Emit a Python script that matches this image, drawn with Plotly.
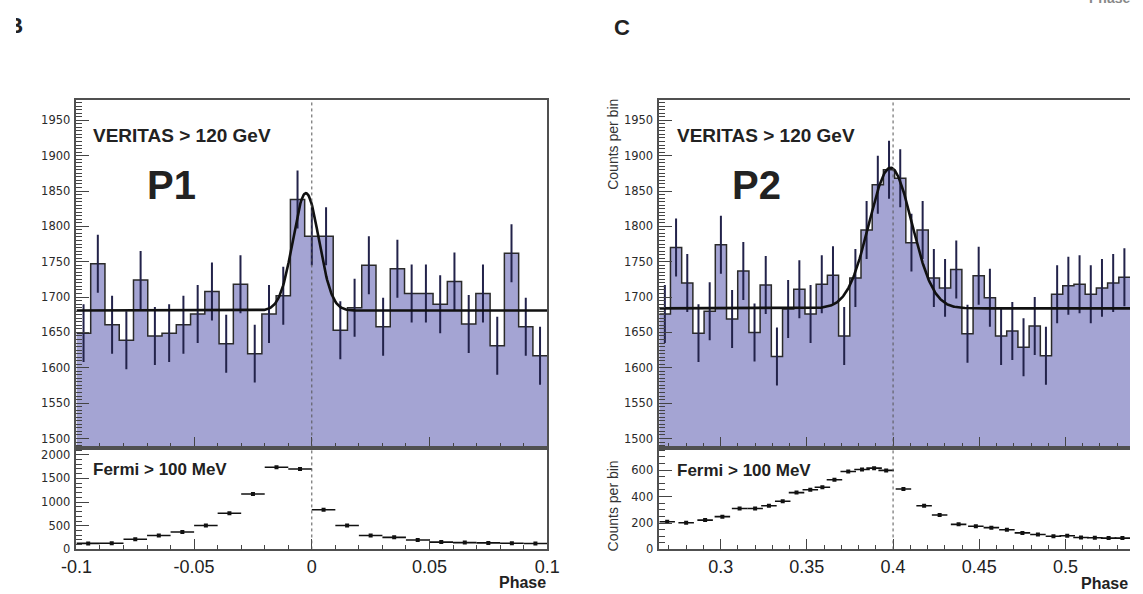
import numpy as np
import plotly.graph_objects as go

# ---------------- data ----------------
# VERITAS > 120 GeV phaseograms (counts per bin)
left_phase_range = [-0.1, 0.1]
left_counts = [1649, 1747, 1661, 1639, 1724, 1645, 1649, 1661, 1676, 1708, 1634,
               1718, 1620, 1676, 1702, 1838, 1786, 1786, 1653, 1685, 1745, 1658,
               1740, 1705, 1705, 1690, 1722, 1662, 1705, 1631, 1762, 1658, 1617]
right_phase_range = [0.2644, 0.5374]
right_counts = [1676, 1770, 1720, 1649, 1680, 1774, 1669, 1737, 1650, 1717, 1616,
                1683, 1711, 1676, 1718, 1731, 1645, 1727, 1795, 1859, 1880, 1868,
                1777, 1795, 1727, 1713, 1739, 1648, 1730, 1699, 1645, 1652, 1629,
                1659, 1617, 1704, 1716, 1718, 1704, 1713, 1720, 1728]
veritas_err = 41

# Gaussian fits (baseline, amplitude, centre, sigma)
left_fit = [1681, 166, -0.0025, 0.0055]
right_fit = [1684, 199, 0.3985, 0.0124]

# Fermi > 100 MeV
fermi_left_phase = [-0.095, -0.085, -0.075, -0.065, -0.055, -0.045, -0.035, -0.025,
                    -0.015, -0.005, 0.005, 0.015, 0.025, 0.035, 0.045, 0.055,
                    0.065, 0.075, 0.085, 0.095]
fermi_left_counts = [128, 132, 215, 295, 370, 505, 765, 1170, 1735, 1700, 840, 505,
                     295, 255, 200, 155, 145, 138, 130, 125]
fermi_left_halfwidth = 0.005
fermi_right_phase = [0.269, 0.280, 0.291, 0.301, 0.311, 0.320, 0.328, 0.336, 0.344,
                     0.352, 0.359, 0.366, 0.374, 0.382, 0.389, 0.396, 0.406, 0.418,
                     0.427, 0.438, 0.448, 0.457, 0.466, 0.475, 0.484, 0.493, 0.501,
                     0.509, 0.517, 0.525, 0.533]
fermi_right_counts = [210, 202, 222, 248, 310, 310, 330, 365, 430, 452, 470, 527, 590,
                      605, 615, 598, 457, 331, 261, 190, 175, 165, 149, 125, 113, 100,
                      104, 90, 88, 86, 86]
fermi_right_halfwidth = 0.0045

top_yticks = [1500, 1550, 1600, 1650, 1700, 1750, 1800, 1850, 1900, 1950]
left_fermi_yticks = [0, 500, 1000, 1500, 2000]
right_fermi_yticks = [0, 200, 400, 600]
left_xticks = [-0.1, -0.05, 0, 0.05, 0.1]
left_xticktext = ["-0.1", "-0.05", "0", "0.05", "0.1"]
right_xticks = [0.3, 0.35, 0.4, 0.45, 0.5]
right_xticktext = ["0.3", "0.35", "0.4", "0.45", "0.5"]

# ---------------- styling ----------------
W, H = 1143, 594
BLUE = "#a4a4d3"
ERRC = "#22224a"
FONT = "Liberation Sans, Arial, sans-serif"
TXT = "#222222"


def px_x(p):
    return p / W


def px_y(p):
    return 1 - p / H


fig = go.Figure()


def add_panel(xa, ya, rng, counts, fit):
    n = len(counts)
    edges = np.linspace(rng[0], rng[1], n + 1)
    centers = 0.5 * (edges[:-1] + edges[1:])
    fig.add_trace(go.Scatter(x=edges, y=list(counts) + [counts[-1]], mode="lines",
                             line=dict(shape="hv", color="#2a2a2a", width=1.5),
                             fill="tozeroy", fillcolor=BLUE, xaxis=xa, yaxis=ya,
                             hoverinfo="skip", showlegend=False))
    fig.add_trace(go.Scatter(x=centers, y=counts, mode="markers",
                             marker=dict(size=1, color=ERRC),
                             error_y=dict(type="constant", value=veritas_err,
                                          color=ERRC, thickness=2, width=0),
                             xaxis=xa, yaxis=ya, showlegend=False))
    xf = np.linspace(rng[0], rng[1], 600)
    b, a, c, s = fit
    yf = b + a * np.exp(-0.5 * ((xf - c) / s) ** 2)
    fig.add_trace(go.Scatter(x=xf, y=yf, mode="lines",
                             line=dict(color="#111111", width=2.6),
                             xaxis=xa, yaxis=ya, showlegend=False))


def add_fermi(xa, ya, ph, cts, hw):
    fig.add_trace(go.Scatter(x=ph, y=cts, mode="markers",
                             marker=dict(symbol="square", size=4, color="#111111"),
                             error_x=dict(type="constant", value=hw, color="#111111",
                                          thickness=1.6, width=0),
                             xaxis=xa, yaxis=ya, showlegend=False))


add_panel("x", "y", left_phase_range, left_counts, left_fit)
add_fermi("x2", "y2", fermi_left_phase, fermi_left_counts, fermi_left_halfwidth)
add_panel("x3", "y3", right_phase_range, right_counts, right_fit)
add_fermi("x4", "y4", fermi_right_phase, fermi_right_counts, fermi_right_halfwidth)

# panel letter "B", partly cut by the left page edge (clipped by a full-page overlay axis)
fig.add_trace(go.Scatter(x=[-9], y=[28], mode="text", text=["<b>B</b>"],
                         textposition="middle right",
                         textfont=dict(family=FONT, size=22, color=TXT),
                         xaxis="x5", yaxis="y5", showlegend=False, hoverinfo="skip"))

LX = [px_x(62), px_x(545)]
RX = [px_x(660), 1.0]
TY = [px_y(453), px_y(101)]
BY = [px_y(556), px_y(453)]

axline = dict(showline=True, linecolor="#505050", linewidth=1.5, showgrid=False,
              zeroline=False, ticks="inside", tickcolor="#444444", tickwidth=1)
tickfont_y = dict(family="DejaVu Sans, sans-serif", size=11.5, color="#2a2a2a")
tickfont_x = dict(family=FONT, size=18, color=TXT)


def xaxis(dom, rng, anchor, labels, tv=None, tt=None):
    d = dict(axline, domain=dom, range=rng, anchor=anchor, mirror=True,
             ticklen=11, minor=dict(tickmode="linear", tick0=0, dtick=0.01,
                                    ticklen=5, ticks="inside", tickcolor="#444444"))
    if labels:
        d.update(tickmode="array", tickvals=tv, ticktext=tt, showticklabels=True,
                 tickfont=tickfont_x, ticklabelstandoff=0)
    else:
        d.update(tickmode="array", tickvals=tv, showticklabels=False)
    return d


def yaxis(dom, rng, anchor, tv, minor_dt, mirror):
    return dict(axline, domain=dom, range=rng, anchor=anchor, mirror=mirror,
                tickmode="array", tickvals=tv, ticktext=[str(v) for v in tv],
                tickfont=tickfont_y, ticklen=13, ticklabelstandoff=2,
                minor=dict(tickmode="linear", tick0=0, dtick=minor_dt, ticklen=6,
                           ticks="inside", tickcolor="#444444"))


hidden = dict(visible=False, showgrid=False, zeroline=False, fixedrange=True)

fig.update_layout(
    width=W, height=H, margin=dict(l=0, r=0, t=0, b=0),
    paper_bgcolor="white", plot_bgcolor="rgba(0,0,0,0)",
    xaxis=xaxis(LX, left_phase_range, "y", False, left_xticks),
    yaxis=yaxis(TY, [1487, 1979], "x", top_yticks, 5, True),
    xaxis2=xaxis(LX, left_phase_range, "y2", True, left_xticks, left_xticktext),
    yaxis2=yaxis(BY, [0, 2150], "x2", left_fermi_yticks, 100, True),
    xaxis3=xaxis(RX, right_phase_range, "y3", False, right_xticks),
    yaxis3=yaxis(TY, [1487, 1979], "x3", top_yticks, 5, False),
    xaxis4=xaxis(RX, right_phase_range, "y4", True, right_xticks, right_xticktext),
    yaxis4=yaxis(BY, [0, 770], "x4", right_fermi_yticks, 50, False),
    xaxis5=dict(hidden, domain=[0, 1], range=[0, W], anchor="y5"),
    yaxis5=dict(hidden, domain=[0, 1], range=[H, 0], anchor="x5"),
)

# dotted vertical lines at phase 0 and 0.4
for xr, xv in (("x", 0.0), ("x3", 0.4)):
    fig.add_shape(type="line", xref=xr, yref="paper", x0=xv, x1=xv,
                  y0=BY[0], y1=TY[1], line=dict(color="#555555", width=1, dash="dot"),
                  layer="above")

ann = []


def text(x, y, s, size, bold=True, xanchor="left", color=TXT, yanchor="middle",
         angle=0):
    ann.append(dict(x=px_x(x), y=px_y(y), xref="paper", yref="paper",
                    text=f"<b>{s}</b>" if bold else s, showarrow=False,
                    xanchor=xanchor, yanchor=yanchor, textangle=angle,
                    borderpad=0, font=dict(family=FONT, size=size, color=color)))


text(78, 137, "VERITAS &gt; 120 GeV", 19)
text(677, 137, "VERITAS &gt; 120 GeV", 19)
text(160, 187, "P1", 40, xanchor="center")
text(760, 187, "P2", 40, xanchor="center")
text(78, 475, "Fermi &gt; 100 MeV", 17)
text(677, 476, "Fermi &gt; 100 MeV", 17)
text(545, 589, "Phase", 16, xanchor="right")
text(1092, 590, "Phase", 16)
text(1100, -2, "Phase", 14, color="#888888")
text(613, 28, "C", 22)
text(613, 99, "Counts per bin", 14, bold=False, xanchor="center", yanchor="top",
     angle=-90, color="#333333")
text(613, 512, "Counts per bin", 14, bold=False, xanchor="center", angle=-90,
     color="#333333")

fig.update_layout(annotations=ann)
fig.write_html("out.html")
